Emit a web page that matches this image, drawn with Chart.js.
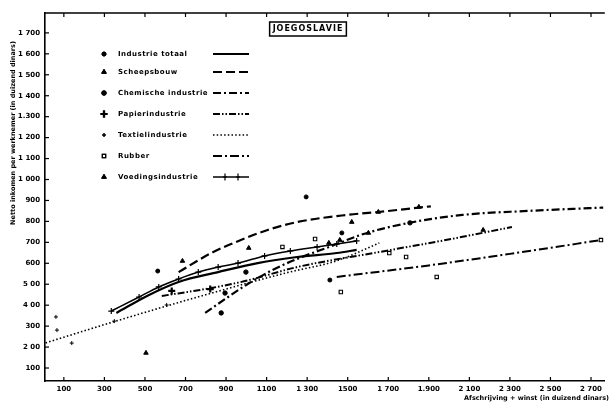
<!DOCTYPE html>
<html lang="nl">
<head>
<meta charset="UTF-8">
<title>Joegoslavie</title>
<script src="https://cdn.jsdelivr.net/npm/chart.js"></script>
<style>
  html, body { margin: 0; padding: 0; background: #fff; }
  #wrap { width: 611px; height: 407px; }
</style>
</head>
<body>
<div id="wrap"><canvas id="c" width="611" height="407"></canvas></div>
<script>
// tick labels (as printed on the chart)
const xTickVals = [100, 300, 500, 700, 900, 1100, 1300, 1500, 1700, 1900, 2100, 2300, 2500, 2700];
const xTickText = ['100', '300', '500', '700', '900', '1100', '1 300', '1500', '1 700', '1.900', '2 100', '2 300', '2 500', '2 700'];
const yTickVals = [100, 200, 300, 400, 500, 600, 700, 800, 900, 1000, 1100, 1200, 1300, 1400, 1500, 1600, 1700];
const yTickText = ['100', '2 00', '300', '4 00', '5 00', '600', '700', '800', '900', '1 000', '1 100', '1 200', '1.300', '1 400', '1 500', '1 600', '1 700'];

// fitted curves [afschrijving + winst, netto inkomen]
const totaalLijn = [[359, 363], [520, 449], [666, 511], [861, 558], [1056, 601], [1251, 630], [1446, 649], [1544, 664]];
const scheepsLijn = [[666, 558], [827, 649], [973, 711], [1105, 759], [1251, 797], [1495, 831], [1651, 845], [1910, 872]];
const chemieLijn = [[797, 363], [910, 439], [1007, 501], [1129, 568], [1251, 621], [1422, 683], [1578, 740], [1802, 793], [2066, 831], [2388, 850], [2760, 866]];
const papierLijn = [[583, 444], [827, 482], [993, 515], [1251, 582], [1656, 654], [1983, 711], [2310, 773]];
const textielLijn = [[10, 220], [350, 322], [800, 450], [1200, 555], [1446, 612], [1656, 697]];
const rubberLijn = [[1446, 535], [1900, 590], [2300, 645], [2750, 711]];
const voedingLijn = [[334, 372], [471, 439], [568, 487], [666, 525], [763, 558], [861, 582], [959, 601], [1090, 635], [1217, 659], [1349, 678], [1446, 692], [1544, 707]];

// observations
const totaalPunten = [[563, 563], [1295, 917], [1412, 520], [1471, 745]];
const scheepsPunten = [[505, 172], [685, 611], [1012, 673], [1520, 797], [1651, 845], [1851, 869]];
const chemiePunten = [[876, 363], [895, 458], [998, 558], [1807, 793]];
const papierPunten = [[632, 468], [822, 477]];
const textielPunten = [[61, 344], [66, 281], [139, 219], [349, 324], [607, 401]];
const rubberPunten = [[1466, 463], [1705, 649], [1788, 630], [1939, 535], [2749, 711], [1339, 716], [1178, 678]];
const voedingPunten = [[1602, 745], [2168, 759], [1461, 711], [1407, 697]];

const legendNames = ['Industrie totaal', 'Scheepsbouw', 'Chemische industrie', 'Papierindustrie', 'Textielindustrie', 'Rubber', 'Voedingsindustrie'];

const pts = arr => arr.map(p => ({ x: p[0], y: p[1] }));
const FONT = "'DejaVu Sans'";

// one style per series: marker + line
const styles = [
  { marker: 'circle', r: 2, fill: '#000', bw: 1, dash: [], lw: 2.2 },
  { marker: 'triangle', r: 2.6, fill: '#000', bw: 1, dash: [9, 4], lw: 2.2 },
  { marker: 'circle', r: 2.2, fill: '#000', bw: 1, dash: [8, 3, 2, 3], lw: 2.2 },
  { marker: 'cross', r: 3.5, fill: '#000', bw: 2.2, dash: [7, 2, 1.5, 2, 1.5, 2], lw: 2 },
  { marker: 'cross', r: 2, fill: '#000', bw: 1, dash: [1.5, 2.2], lw: 1.6 },
  { marker: 'rect', r: 2.4, fill: '#fff', bw: 1.1, dash: [9, 3, 2, 3], lw: 2 },
  { marker: 'triangle', r: 2.6, fill: '#000', bw: 1, dash: [], lw: 1.6 }
];

const lines = [totaalLijn, scheepsLijn, chemieLijn, papierLijn, textielLijn, rubberLijn, voedingLijn];
const dots = [totaalPunten, scheepsPunten, chemiePunten, papierPunten, textielPunten, rubberPunten, voedingPunten];

const datasets = [];
lines.forEach((l, i) => {
  const s = styles[i];
  const isVoeding = i === 6;
  datasets.push({
    label: legendNames[i] + ' lijn',
    data: pts(l),
    showLine: true,
    borderColor: '#000',
    borderWidth: s.lw,
    borderDash: s.dash,
    cubicInterpolationMode: 'monotone',
    pointRadius: isVoeding ? 3 : 0,
    pointStyle: 'cross',
    pointBorderWidth: 1.2,
    pointBorderColor: '#000'
  });
});
dots.forEach((d, i) => {
  const s = styles[i];
  datasets.push({
    label: legendNames[i],
    data: pts(d),
    showLine: false,
    pointStyle: s.marker,
    pointRadius: s.r,
    pointBackgroundColor: s.fill,
    pointBorderColor: '#000',
    pointBorderWidth: s.bw
  });
});

// inner ticks, top frame, title box, legend, axis titles
const decor = {
  id: 'decor',
  afterDraw(chart) {
    const { ctx, chartArea: a, scales: { x, y } } = chart;
    ctx.save();
    ctx.strokeStyle = '#000';
    ctx.fillStyle = '#000';
    ctx.setLineDash([]);
    ctx.lineWidth = 1.6;
    ctx.beginPath();
    ctx.moveTo(a.left, a.top);
    ctx.lineTo(a.right, a.top);
    ctx.stroke();
    ctx.lineWidth = 1.2;
    xTickVals.forEach(v => {
      const px = x.getPixelForValue(v);
      ctx.beginPath();
      ctx.moveTo(px, a.bottom); ctx.lineTo(px, a.bottom - 4);
      ctx.moveTo(px, a.top); ctx.lineTo(px, a.top + 4);
      ctx.stroke();
    });
    yTickVals.forEach(v => {
      const py = y.getPixelForValue(v);
      ctx.beginPath();
      ctx.moveTo(a.left, py); ctx.lineTo(a.left + 4, py);
      ctx.stroke();
    });

    // title box
    ctx.font = 'bold 8px ' + FONT;
    ctx.textAlign = 'center';
    ctx.textBaseline = 'middle';
    const title = 'JOEGOSLAVIE';
    ctx.letterSpacing = '1px';
    const tw = ctx.measureText(title).width;
    ctx.fillText(title, 308, 29);
    ctx.letterSpacing = '0px';
    ctx.lineWidth = 1.5;
    ctx.strokeRect(308 - tw / 2 - 3, 22, tw + 6, 14);

    // legend
    const rows = [54, 72, 93, 114, 135, 156, 177];
    rows.forEach((ry, i) => {
      const s = styles[i];
      ctx.fillStyle = s.fill;
      ctx.lineWidth = s.bw;
      Chart.helpers.drawPoint(ctx, { pointStyle: s.marker, radius: s.r, rotation: 0, borderWidth: s.bw }, 104, ry);
      if (s.fill === '#000') ctx.fill();
      ctx.stroke();
      ctx.fillStyle = '#000';
      ctx.font = 'bold 7px ' + FONT;
      ctx.textAlign = 'left';
      ctx.textBaseline = 'middle';
      ctx.letterSpacing = '0.5px';
      ctx.fillText(legendNames[i], 118, ry);
      ctx.letterSpacing = '0px';
      ctx.lineWidth = s.lw;
      ctx.setLineDash(s.dash);
      ctx.beginPath();
      ctx.moveTo(213, ry); ctx.lineTo(249, ry);
      ctx.stroke();
      ctx.setLineDash([]);
      if (i === 6) {
        ctx.lineWidth = 1.2;
        [225, 238].forEach(cx => {
          ctx.beginPath();
          ctx.moveTo(cx, ry - 3.5); ctx.lineTo(cx, ry + 3.5);
          ctx.moveTo(cx - 2, ry); ctx.lineTo(cx + 2, ry);
          ctx.stroke();
        });
      }
    });

    // axis titles
    ctx.fillStyle = '#000';
    ctx.font = 'bold 6.5px ' + FONT;
    ctx.textAlign = 'right';
    ctx.textBaseline = 'middle';
    ctx.fillText('Afschrijving + winst (in duizend dinars)', 609, 398);
    ctx.translate(13, 133);
    ctx.rotate(-Math.PI / 2);
    ctx.textAlign = 'center';
    ctx.fillText('Netto inkomen per werknemer (in duizend dinars)', 0, 0);
    ctx.restore();
  }
};

new Chart(document.getElementById('c'), {
  type: 'scatter',
  data: { datasets },
  options: {
    responsive: false,
    animation: false,
    layout: { padding: { top: 13, left: 0, right: 0, bottom: 0 } },
    plugins: { legend: { display: false }, tooltip: { enabled: false } },
    scales: {
      x: {
        type: 'linear',
        min: 7,
        max: 2768,
        afterFit: s => { s.height = 26; },
        afterBuildTicks: s => { s.ticks = xTickVals.map(v => ({ value: v })); },
        grid: { display: false, drawTicks: false },
        border: { display: true, color: '#000', width: 1.6 },
        ticks: {
          autoSkip: false, maxRotation: 0, padding: 4, color: '#000',
          font: { family: FONT, size: 7, weight: 'bold' },
          callback: v => xTickText[xTickVals.indexOf(v)]
        }
      },
      y: {
        min: 38,
        max: 1795,
        afterFit: s => { s.width = 45; },
        afterBuildTicks: s => { s.ticks = yTickVals.map(v => ({ value: v })); },
        grid: { display: false, drawTicks: false },
        border: { display: true, color: '#000', width: 1.6 },
        ticks: {
          autoSkip: false, padding: 5, color: '#000',
          font: { family: FONT, size: 7, weight: 'bold' },
          callback: v => yTickText[yTickVals.indexOf(v)]
        }
      }
    }
  },
  plugins: [decor]
});
</script>
</body>
</html>
